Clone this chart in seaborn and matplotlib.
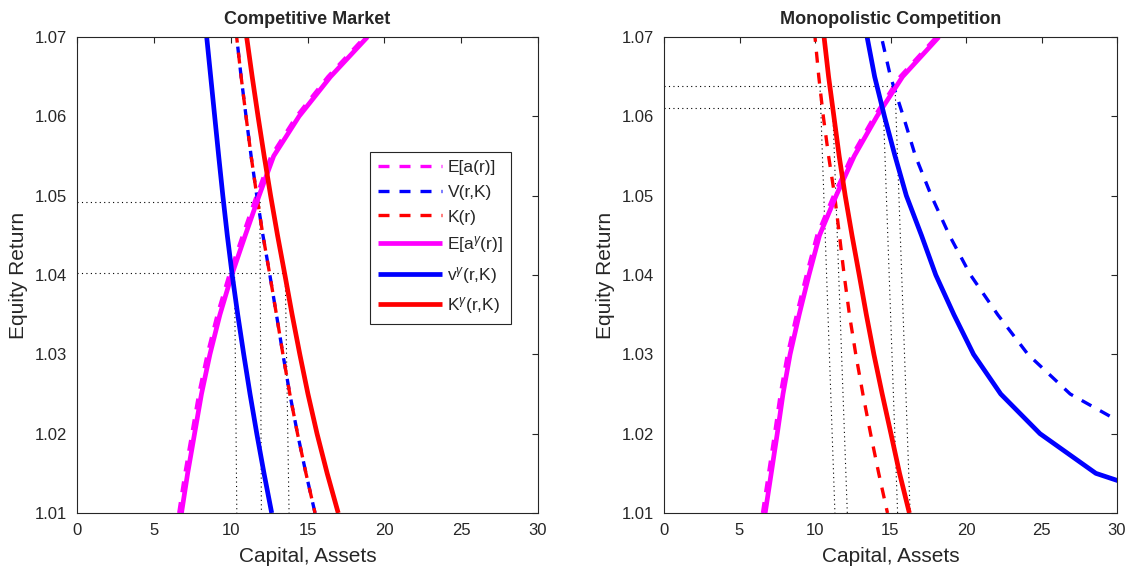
import matplotlib
matplotlib.use("Agg")
import matplotlib.pyplot as plt
from matplotlib.lines import Line2D
import pandas as pd
import seaborn as sns

# Equity return grid shared by every curve
r_grid = [1.010, 1.015, 1.020, 1.025, 1.030, 1.035, 1.040,
          1.045, 1.050, 1.055, 1.060, 1.065, 1.070]

# Competitive market: capital / assets at each return
comp_Ea = [6.62, 7.02, 7.47, 7.92, 8.47, 9.12, 9.89, 10.77, 11.67, 12.62, 14.27, 16.32, 18.72]
comp_V = [15.49, 14.90, 14.35, 13.85, 13.40, 12.98, 12.55, 12.10, 11.70, 11.33, 11.00, 10.68, 10.39]
comp_K = [15.49, 14.90, 14.35, 13.85, 13.40, 12.98, 12.55, 12.10, 11.70, 11.33, 11.00, 10.68, 10.39]
comp_Ea_g = [6.80, 7.20, 7.65, 8.10, 8.65, 9.30, 10.07, 10.95, 11.85, 12.80, 14.45, 16.50, 18.90]
comp_v_g = [12.67, 12.17, 11.70, 11.26, 10.85, 10.46, 10.10, 9.78, 9.49, 9.22, 8.96, 8.70, 8.44]
comp_K_g = [17.00, 16.28, 15.62, 15.03, 14.50, 14.00, 13.53, 13.05, 12.60, 12.18, 11.78, 11.40, 11.04]

# Monopolistic competition
mono_Ea = [6.52, 6.92, 7.32, 7.70, 8.17, 8.77, 9.42, 10.12, 11.22, 12.42, 13.92, 15.62, 18.02]
mono_V = [44.0, 37.0, 31.6, 26.9, 24.1, 22.1, 20.3, 18.9, 17.7, 16.65, 15.85, 15.0, 14.4]
mono_K = [14.80, 14.22, 13.68, 13.17, 12.70, 12.28, 11.93, 11.62, 11.30, 10.90, 10.55, 10.25, 10.00]
mono_Ea_g = [6.70, 7.10, 7.50, 7.88, 8.35, 8.95, 9.60, 10.30, 11.40, 12.60, 14.10, 15.80, 18.20]
mono_v_g = [36.5, 28.6, 24.9, 22.3, 20.5, 19.2, 18.0, 17.05, 16.05, 15.3, 14.6, 13.95, 13.45]
mono_K_g = [16.25, 15.60, 15.03, 14.45, 13.90, 13.40, 12.93, 12.45, 12.00, 11.60, 11.25, 10.90, 10.60]

# Dotted guides to the equilibria (x pairs, y pairs)
comp_guide_x = [[0, 11.9], [0, 13.55], [10.25, 10.40], [11.9, 12.0], [13.55, 13.8]]
comp_guide_y = [[1.0492, 1.0492], [1.0403, 1.0403], [1.0403, 1.01], [1.0492, 1.01], [1.0403, 1.01]]
mono_guide_x = [[0, 15.3], [0, 14.52], [10.33, 11.32], [11.17, 12.14], [14.52, 15.47], [15.3, 16.3]]
mono_guide_y = [[1.0638, 1.0638], [1.0611, 1.0611], [1.0638, 1.01], [1.0611, 1.01],
                [1.0611, 1.01], [1.0638, 1.01]]

labels = ["E[a(r)]", "V(r,K)", "K(r)",
          r"E[a$^{\gamma}$(r)]", r"v$^{\gamma}$(r,K)", r"K$^{\gamma}$(r,K)"]
titles = ["Competitive Market", "Monopolistic Competition"]
x_ticks = [0, 5, 10, 15, 20, 25, 30]
y_ticks = [1.01, 1.02, 1.03, 1.04, 1.05, 1.06, 1.07]

sns.set_theme(style="white")
plt.rcParams["font.family"] = ["Liberation Sans", "DejaVu Sans"]
plt.rcParams["mathtext.fontset"] = "custom"
plt.rcParams["mathtext.rm"] = "Liberation Sans"
plt.rcParams["mathtext.it"] = "Liberation Sans:italic"

MAG, BLU, RED = "#ff00ff", "#0000ff", "#ff0000"
INK = "#262626"
dash_lw, solid_lw = 2.4, 3.4
dash_style = (0, (3.3, 3.0))
dash_style_shift = (1.8, (3.3, 3.0))

fig = plt.figure(figsize=(11.27, 5.69), dpi=100)
ax_l = fig.add_axes([77 / 1127, 1 - 513 / 569, 461 / 1127, 476 / 569])
ax_r = fig.add_axes([664 / 1127, 1 - 513 / 569, 453 / 1127, 476 / 569])

panels = [
    (ax_l, [comp_Ea, comp_V, comp_K, comp_Ea_g, comp_v_g, comp_K_g], comp_guide_x, comp_guide_y),
    (ax_r, [mono_Ea, mono_V, mono_K, mono_Ea_g, mono_v_g, mono_K_g], mono_guide_x, mono_guide_y),
]
styles = [
    dict(color=MAG, lw=dash_lw, linestyle=dash_style),
    dict(color=BLU, lw=dash_lw, linestyle=dash_style),
    dict(color=RED, lw=dash_lw, linestyle=dash_style_shift),
    dict(color=MAG, lw=solid_lw, linestyle="-"),
    dict(color=BLU, lw=solid_lw, linestyle="-"),
    dict(color=RED, lw=solid_lw, linestyle="-"),
]

for i, (ax, series, gx, gy) in enumerate(panels):
    for xs, ys in zip(gx, gy):
        ax.plot(xs, ys, color="black", lw=0.8, linestyle=(0, (1, 3)), zorder=1)
    for vals, st in zip(series, styles):
        df = pd.DataFrame({"K": vals, "r": r_grid})
        sns.lineplot(data=df, x="K", y="r", sort=False, estimator=None, ax=ax,
                     solid_capstyle="butt", dash_capstyle="butt", zorder=2, **st)
    ax.set_xlim(0, 30)
    ax.set_ylim(1.01, 1.07)
    ax.set_xticks(x_ticks)
    ax.set_yticks(y_ticks)
    ax.set_yticklabels([f"{v:.2f}" for v in y_ticks])
    ax.tick_params(direction="in", length=4, width=0.8, top=True, right=True,
                   labelsize=12, colors=INK, pad=7)
    for sp in ax.spines.values():
        sp.set_visible(True)
        sp.set_linewidth(0.8)
        sp.set_color(INK)
    ax.set_xlabel("Capital, Assets", fontsize=15, color=INK, labelpad=7)
    ax.set_ylabel("Equity Return", fontsize=15, color=INK, labelpad=5)
    ax.set_title(titles[i], fontsize=13, fontweight="bold", pad=9)

# Legend keys with a plain dash pattern
keys = [Line2D([], [], color=st["color"], lw=st["lw"],
               linestyle=(0, (3.3, 3.0)) if st["linestyle"] != "-" else "-",
               dash_capstyle="butt", solid_capstyle="butt") for st in styles]
leg = ax_l.legend(keys, labels, loc="upper left", bbox_to_anchor=(0.636, 0.758),
                  borderaxespad=0, fontsize=12.5, handlelength=3.7, handletextpad=0.3,
                  labelspacing=0.55, borderpad=0.45, fancybox=False, framealpha=1,
                  edgecolor=INK)
leg.get_frame().set_linewidth(0.8)

fig.savefig("out.png", dpi=100)
